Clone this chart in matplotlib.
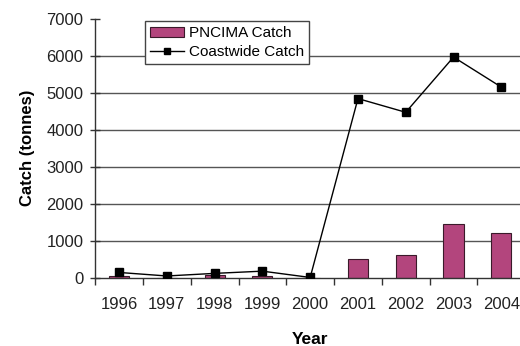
import numpy as np
import matplotlib.pyplot as plt
from matplotlib.lines import Line2D
from matplotlib.patches import Patch

plt.rcParams['font.family'] = ['Liberation Sans', 'DejaVu Sans']

years = ['1996', '1997', '1998', '1999', '2000', '2001', '2002', '2003', '2004']
pncima = [60, 10, 70, 60, 0, 510, 630, 1450, 1210]
coastwide = [150, 55, 125, 185, 15, 4840, 4470, 5960, 5150]

x = np.arange(len(years))

fig = plt.figure(figsize=(5.2, 3.46), dpi=100)
ax = fig.add_axes([0.183, 0.1965, 0.827, 0.75])

ax.bar(x, pncima, width=0.42, color='#B3457D', edgecolor='#3a1a2a', linewidth=0.8, zorder=2)
ax.plot(x, coastwide, color='black', linewidth=1.0, marker='s', markersize=5.5, zorder=3)

ax.set_xlim(-0.5, len(years) - 0.5)
ax.set_ylim(0, 7000)
ax.set_yticks(np.arange(0, 7001, 1000))
for yv in range(1000, 7000, 1000):
    ax.axhline(yv, color='#555555', linewidth=1.0, zorder=1)

# category boundary ticks, labels at centres
ax.set_xticks(np.arange(-0.5, len(years), 1.0))
ax.set_xticklabels([])
ax.set_xticks(x, minor=True)
ax.set_xticklabels(years, minor=True)
ax.tick_params(axis='x', which='major', direction='out', length=5, width=1, color='#333333')
ax.tick_params(axis='x', which='minor', length=0, pad=14, labelsize=12, labelcolor='#222222')
ax.tick_params(axis='y', direction='inout', length=7, width=1, color='#333333',
               labelsize=12, labelcolor='#222222', pad=5)

for s in ['top', 'right']:
    ax.spines[s].set_visible(False)
for s in ['left', 'bottom']:
    ax.spines[s].set_color('#333333')
    ax.spines[s].set_linewidth(1.0)

ax.set_xlabel('Year', fontsize=12.5, fontweight='bold', labelpad=14)
ax.set_ylabel('Catch (tonnes)', fontsize=12, fontweight='bold', labelpad=8)

handles = [Patch(facecolor='#B3457D', edgecolor='#3a1a2a', linewidth=0.8),
           Line2D([0], [0], color='black', linewidth=1.0, marker='s', markersize=4.5)]
leg = ax.legend(handles, ['PNCIMA Catch', 'Coastwide Catch'], loc='upper left',
                bbox_to_anchor=(0.116, 0.99), fontsize=11, frameon=True, fancybox=False,
                edgecolor='#444444', framealpha=1, handlelength=2.2, handletextpad=0.3,
                borderpad=0.35, labelspacing=0.3, borderaxespad=0)
leg.get_frame().set_linewidth(1.0)

plt.savefig('out.png', format='png')
